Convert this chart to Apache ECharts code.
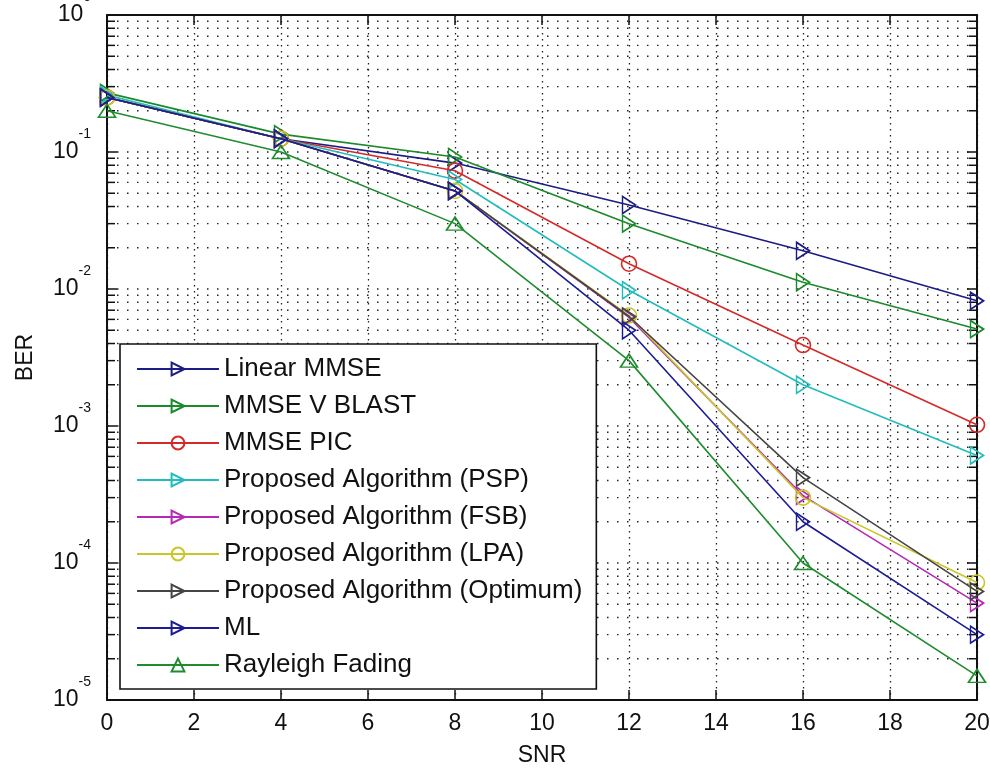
<!DOCTYPE html>
<html>
<head>
<meta charset="utf-8">
<script src="https://cdn.jsdelivr.net/npm/echarts@6/dist/echarts.min.js"></script>
<style>
html,body{margin:0;padding:0;background:#fff;}
#chart{width:990px;height:770px;}
</style>
</head>
<body>
<div id="chart"></div>
<script>
// ---- data ----
const snr = [0, 4, 8, 12, 16, 20];
const seriesNames = [
  'Linear MMSE', 'MMSE V BLAST', 'MMSE PIC', 'Proposed Algorithm (PSP)',
  'Proposed Algorithm (FSB)', 'Proposed Algorithm (LPA)', 'Proposed Algorithm (Optimum)',
  'ML', 'Rayleigh Fading'
];
const linearMMSE = [0.25, 0.125, 0.083, 0.041, 0.019, 0.0082];
const mmseVBlast = [0.27, 0.135, 0.092, 0.030, 0.0112, 0.0051];
const mmsePIC    = [0.25, 0.125, 0.073, 0.0153, 0.0039, 0.00102];
const algPSP     = [0.26, 0.125, 0.063, 0.0098, 0.0020, 0.00061];
const algFSB     = [0.25, 0.125, 0.052, 0.0062, 0.00031, 0.000051];
const algLPA     = [0.25, 0.125, 0.052, 0.0064, 0.00030, 0.000072];
const algOptimum = [0.25, 0.125, 0.052, 0.0063, 0.00042, 0.000062];
const mlBER      = [0.25, 0.125, 0.052, 0.0050, 0.00020, 0.000030];
const rayleigh   = [0.20, 0.10, 0.030, 0.0030, 0.00010, 0.000015];
const xTicks = [0, 2, 4, 6, 8, 10, 12, 14, 16, 18, 20];
const yDecades = [-5, -4, -3, -2, -1, 0];

// ---- styles ----
const colors = ['#1c1c85', '#1a8a2a', '#d42a2a', '#22bcbc', '#b52ab5', '#c9c62a', '#454545', '#1c1c95', '#1f8c2f'];
const symbols = ['triangle', 'triangle', 'circle', 'triangle', 'triangle', 'circle', 'triangle', 'triangle', 'triangle'];
const allData = [linearMMSE, mmseVBlast, mmsePIC, algPSP, algFSB, algLPA, algOptimum, mlBER, rayleigh];

const minorVals = [];
yDecades.slice(0, -1).forEach(d => {
  for (let m = 1; m <= 9; m++) {
    if (m === 1 && d === -5) continue;
    minorVals.push(m * Math.pow(10, d));
  }
});

const FONT = '"Liberation Sans", Arial, sans-serif';

const lineSeries = allData.map((vals, i) => {
  const isCircle = symbols[i] === 'circle';
  const isUp = i === 8;
  return {
    name: seriesNames[i],
    type: 'line',
    data: snr.map((x, k) => [x, vals[k]]),
    symbol: symbols[i],
    symbolSize: isCircle ? 15 : [17, 13],
    symbolRotate: (isCircle || isUp) ? 0 : -90,
    showAllSymbol: true,
    color: colors[i],
    lineStyle: { color: colors[i], width: 1.6 },
    itemStyle: { color: 'rgba(255,255,255,0)', borderColor: colors[i], borderWidth: 1.6 },
    emphasis: { disabled: true },
    animation: false,
    z: 5 + i
  };
});

const gridSeries = {
  type: 'custom',
  silent: true,
  animation: false,
  z: 1,
  data: minorVals.map(v => [0, v]),
  renderItem: function (params, api) {
    const v = api.value(1);
    const p0 = api.coord([0, v]);
    const p1 = api.coord([20, v]);
    const isMajor = Math.abs(Math.log10(v) - Math.round(Math.log10(v))) < 1e-9;
    const tl = 8;
    return {
      type: 'group',
      children: [
        { type: 'line', shape: { x1: p0[0], y1: p0[1], x2: p1[0], y2: p1[1] },
          style: { stroke: '#222', lineWidth: 1.4, lineDash: [1.5, 8.5] } },
        { type: 'line', shape: { x1: p0[0], y1: p0[1], x2: p0[0] + (isMajor ? 10 : tl), y2: p0[1] },
          style: { stroke: '#111', lineWidth: 1.5 } },
        { type: 'line', shape: { x1: p1[0], y1: p1[1], x2: p1[0] - (isMajor ? 10 : tl), y2: p1[1] },
          style: { stroke: '#111', lineWidth: 1.5 } }
      ]
    };
  }
};

const chart = echarts.init(document.getElementById('chart'), null, { renderer: 'canvas' });
chart.setOption({
  backgroundColor: '#ffffff',
  textStyle: { fontFamily: FONT },
  grid: { left: 107, top: 15, right: 13, bottom: 70, containLabel: false, outerBoundsMode: 'none' },
  legend: {
    orient: 'vertical',
    left: 120,
    top: 344,
    data: seriesNames,
    backgroundColor: '#ffffff',
    borderColor: '#111',
    borderWidth: 1.6,
    padding: [12, 14, 11, 16],
    itemWidth: 82,
    itemHeight: 16,
    itemGap: 11,
    selectedMode: false,
    textStyle: { fontFamily: FONT, fontSize: 26, color: '#111', lineHeight: 24 },
    z: 20
  },
  xAxis: [{
    type: 'value', min: 0, max: 20, interval: 2,
    name: 'SNR', nameLocation: 'middle', nameGap: 44,
    nameTextStyle: { fontFamily: FONT, fontSize: 23, color: '#111' },
    axisLine: { show: true, onZero: false, lineStyle: { color: '#111', width: 2 } },
    axisTick: { show: true, inside: true, length: 10, lineStyle: { color: '#111', width: 1.5 } },
    axisLabel: { fontFamily: FONT, fontSize: 23, color: '#111', margin: 12 },
    splitLine: { show: true, lineStyle: { color: '#222', width: 1.3, type: [1.5, 4.5] } }
  }, {
    type: 'value', min: 0, max: 20, interval: 2, position: 'top',
    axisLine: { show: true, onZero: false, lineStyle: { color: '#111', width: 2 } },
    axisTick: { show: true, inside: true, length: 10, lineStyle: { color: '#111', width: 1.5 } },
    axisLabel: { show: false },
    splitLine: { show: false }
  }],
  yAxis: [{
    type: 'log', logBase: 10, min: 1e-5, max: 1,
    name: 'BER', nameLocation: 'middle', nameGap: 70,
    nameTextStyle: { fontFamily: FONT, fontSize: 23, color: '#111' },
    axisLine: { show: true, onZero: false, lineStyle: { color: '#111', width: 2 } },
    axisTick: { show: false },
    splitLine: { show: false },
    axisLabel: {
      margin: 16,
      padding: [0, 0, 14, 0],
      formatter: function (v) {
        const e = Math.round(Math.log10(v));
        return '{b|10}{s|' + e + '}';
      },
      rich: {
        b: { fontFamily: FONT, fontSize: 23, color: '#111', lineHeight: 36, verticalAlign: 'bottom' },
        s: { fontFamily: FONT, fontSize: 14, color: '#111', lineHeight: 36, verticalAlign: 'top' }
      }
    }
  }, {
    type: 'log', logBase: 10, min: 1e-5, max: 1, position: 'right',
    axisLine: { show: true, onZero: false, lineStyle: { color: '#111', width: 2 } },
    axisTick: { show: false },
    axisLabel: { show: false },
    splitLine: { show: false }
  }],
  series: [gridSeries].concat(lineSeries)
});
</script>
</body>
</html>
